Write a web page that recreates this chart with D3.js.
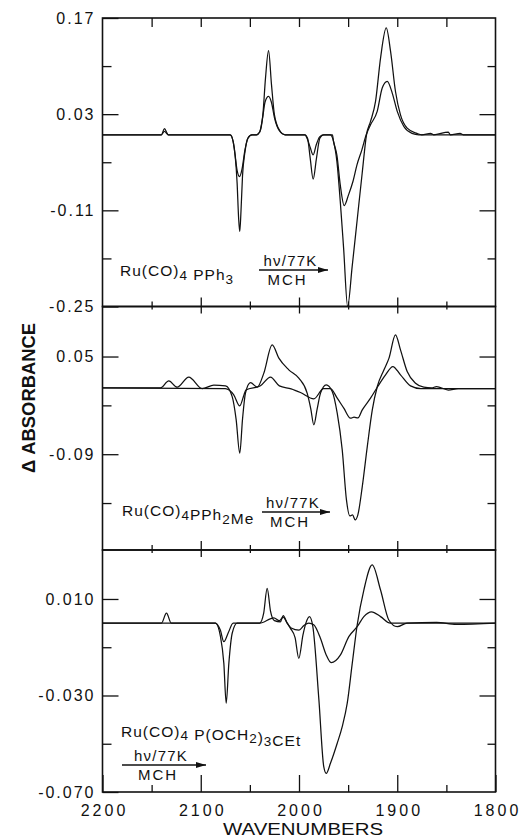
<!DOCTYPE html>
<html><head><meta charset="utf-8">
<script src="https://cdn.jsdelivr.net/npm/d3@7"></script>
<style>
html,body{margin:0;padding:0;background:#fff;}
svg{display:block;}
text{font-family:"Liberation Sans","DejaVu Sans",sans-serif;fill:#111;}
</style></head>
<body>
<svg id="chart" width="521" height="837"></svg>
<script>
// ---- data ----
const xMajor = [2200, 2100, 2000, 1900, 1800];
const xMinor = [2150, 2050, 1950, 1850];

const topMajor = [0.17, 0.03, -0.11, -0.25];
const topMinor = [0.10, -0.04, -0.18];
const midMajor = [0.05, -0.09];
const midMinor = [-0.02, -0.16];
const botMajor = [0.010, -0.030, -0.070];
const botMinor = [-0.010, -0.050];

// [wavenumber, delta absorbance]
const topLarge = [[2200,0],[2140,0],[2137,0.009],[2133,0],[2070,0],[2067,-0.01],[2065,-0.03],[2063,-0.07],[2061.5,-0.12],[2060.3,-0.141],[2059,-0.11],[2057.5,-0.06],[2055,-0.025],[2052,-0.005],[2048,0],[2043.5,0],[2040,0.004],[2036.8,0.029],[2034.1,0.0825],[2031,0.1225],[2028,0.073],[2025,0.029],[2020,0.007],[2014,0],[1994,0],[1991.3,-0.005],[1988.6,-0.034],[1985.6,-0.0647],[1982.2,-0.034],[1978.8,-0.005],[1975,0],[1968,0],[1964.8,-0.01],[1961.4,-0.039],[1958,-0.097],[1954.6,-0.165],[1950.5,-0.25],[1945.9,-0.192],[1940.8,-0.124],[1935.7,-0.056],[1931.3,0],[1927.2,0.0194],[1922.1,0.0486],[1917,0.1117],[1911.2,0.1555],[1906.8,0.1215],[1901.8,0.063],[1896.7,0.029],[1889.9,0.0096],[1880,0.002],[1875,0],[1866,0.002],[1863,0],[1848,0.004],[1846,0],[1836,0.002],[1833,0],[1800,0]];
const topSmall = [[2200,0],[2140,0],[2137,0.005],[2133,0],[2070,0],[2067,-0.01],[2065,-0.03],[2063,-0.052],[2060.5,-0.061],[2058,-0.05],[2055,-0.022],[2052,-0.005],[2048,0],[2043,0],[2040,0.004],[2037,0.025],[2034.5,0.048],[2031,0.0559],[2028,0.047],[2025,0.025],[2020,0.006],[2014,0],[1994,0],[1991,-0.008],[1988.5,-0.019],[1985.6,-0.0292],[1982.5,-0.015],[1979,-0.003],[1975,0],[1966,0],[1964.8,-0.01],[1961.4,-0.03],[1958,-0.073],[1954,-0.103],[1949.6,-0.0875],[1945.1,-0.068],[1941,-0.0438],[1936,-0.0219],[1931.6,0],[1927.2,0.0146],[1920.4,0.034],[1915.3,0.068],[1910.2,0.0777],[1905.1,0.0607],[1900,0.034],[1893.3,0.012],[1885,0.002],[1878,0],[1800,0]];

const midLarge = [[2200,0.005],[2141,0.005],[2132.5,0.015],[2124,0.006],[2112.2,0.0205],[2098.5,0.004],[2086.7,0.009],[2074.8,0.008],[2068,-0.0074],[2064,-0.04],[2060.3,-0.0886],[2057.5,-0.04],[2054.5,-0.0025],[2049.4,0.0127],[2042.5,0.0061],[2035.8,0.0262],[2027.3,0.0668],[2020.5,0.0477],[2010.4,0.0309],[2000.2,0.019],[1991.7,-0.0025],[1988,-0.025],[1984.9,-0.048],[1981.5,-0.025],[1978.1,-0.0025],[1972.3,0.0094],[1966.2,0.0],[1961.1,-0.0312],[1956,-0.0838],[1951.7,-0.1555],[1948.3,-0.1785],[1945.5,-0.177],[1942.8,-0.1842],[1940.1,-0.177],[1935.6,-0.1365],[1930.5,-0.0791],[1925.4,-0.0265],[1920.3,0.007],[1913.5,0.0309],[1908.4,0.0477],[1901.8,0.0811],[1896.7,0.0596],[1889.9,0.0285],[1881.4,0.0118],[1873,0.0061],[1865,0.005],[1860,0.007],[1848,0.002],[1838,0.004],[1800,0.004]];
const midSmall = [[2200,0.005],[2075,0.004],[2066.4,-0.0049],[2060.3,-0.0207],[2056,-0.005],[2054,0.002],[2039.2,0.008],[2029,0.0205],[2020,0.008],[2008,0.0037],[1998.5,-0.0016],[1984.9,-0.0107],[1975,0.004],[1968,0.004],[1961.1,-0.0097],[1954.4,-0.024],[1947.6,-0.0384],[1944,-0.037],[1940,-0.038],[1935.6,-0.0265],[1927.2,-0.0097],[1920.3,0.006],[1911.9,0.0237],[1904.5,0.0357],[1896.7,0.0237],[1886.5,0.008],[1876,0.004],[1800,0.004]];

const botLarge = [[2200,0],[2140,0],[2134.9,0.0041],[2130,0],[2085,0],[2079.9,-0.0056],[2076.5,-0.0167],[2074.1,-0.0332],[2071.4,-0.0167],[2068,-0.0042],[2063,0],[2040,0],[2036,0.004],[2032.4,0.0144],[2029,0.005],[2025,0.001],[2019,0.0005],[2016.1,0.0031],[2012,0],[2008.7,-0.0022],[2004,-0.006],[2000.2,-0.0146],[1996,-0.005],[1993,0],[1989.3,0.0027],[1985.9,-0.0015],[1979.8,-0.0315],[1974.8,-0.0595],[1972.3,-0.0623],[1967.9,-0.058],[1961.1,-0.0498],[1956,-0.0429],[1950.9,-0.0332],[1945.8,-0.0167],[1940.8,-0.0008],[1934,0.0137],[1925.5,0.0241],[1917,0.0137],[1908.6,0.0013],[1900,-0.0015],[1890,0],[1860,0.0003],[1840,-0.0005],[1800,0]];
const botSmall = [[2200,0],[2085,0],[2080,-0.003],[2076.5,-0.0077],[2072,-0.004],[2067,0],[2040,0],[2025.6,0.0022],[2020,0.001],[2016.1,0.0025],[2012,0],[2008,-0.002],[2000,-0.0029],[1995,-0.001],[1990,0],[1985,-0.0007],[1978.2,-0.0063],[1972.3,-0.0132],[1967.3,-0.0164],[1957.8,-0.0132],[1949.3,-0.0056],[1940.8,-0.0015],[1934,0.0027],[1926.2,0.0047],[1917,0.0027],[1907,0],[1800,0]];

// ---- layout ----
const svg = d3.select("#chart");
const X0 = 102.5, X1 = 495.5;
const x = d3.scaleLinear().domain([2200, 1800]).range([X0, X1]);
const allX = xMajor.concat(xMinor).sort((a,b)=>b-a);

const fmt2 = v => (v < 0 ? "-" : "") + Math.abs(v).toFixed(2);
const fmt3 = v => (v < 0 ? "-" : "") + Math.abs(v).toFixed(3);

const panels = [
  {top:18, bottom:306.5, domain:[-0.25, 0.17], major:topMajor, minor:topMinor, fmt:fmt2, series:[topLarge, topSmall]},
  {top:306.5, bottom:550, domain:[-0.2273, 0.1217], major:midMajor, minor:midMinor, fmt:fmt2, series:[midLarge, midSmall]},
  {top:550, bottom:792, domain:[-0.070, 0.0303], major:botMajor, minor:botMinor, fmt:fmt3, series:[botLarge, botSmall]}
];

function clean(g){ g.select(".domain").remove(); g.selectAll("line").attr("stroke","#111").attr("stroke-width",1.3); }

panels.forEach((p, i) => {
  const y = d3.scaleLinear().domain(p.domain).range([p.bottom, p.top]);
  const clipId = "clip" + i;
  svg.append("clipPath").attr("id", clipId).append("rect")
    .attr("x", X0).attr("y", p.top - 1).attr("width", X1 - X0).attr("height", p.bottom - p.top + 2);

  const line = d3.line().x(d => x(d[0])).y(d => y(d[1])).curve(d3.curveMonotoneX);
  p.series.forEach(s => {
    svg.append("path").datum(s).attr("d", line)
      .attr("fill","none").attr("stroke","#111").attr("stroke-width",1.25)
      .attr("stroke-linejoin","round").attr("clip-path", `url(#${clipId})`);
  });

  svg.append("g").attr("transform", `translate(${X0},0)`)
    .call(d3.axisLeft(y).tickValues(p.major).tickSizeInner(-16).tickSizeOuter(0).tickPadding(7).tickFormat(p.fmt))
    .call(clean)
    .call(g => g.selectAll("text").attr("font-size",16).attr("letter-spacing","2px").attr("fill","#111").attr("font-family","Liberation Sans, sans-serif"));
  svg.append("g").attr("transform", `translate(${X0},0)`)
    .call(d3.axisLeft(y).tickValues(p.minor).tickSize(-9).tickFormat(""))
    .call(clean);
  svg.append("g").attr("transform", `translate(${X1},0)`)
    .call(d3.axisRight(y).tickValues(p.major.filter(v => y(v) > p.top + 2 && y(v) < p.bottom - 2)).tickSize(-16).tickFormat(""))
    .call(clean);
  svg.append("g").attr("transform", `translate(${X1},0)`)
    .call(d3.axisRight(y).tickValues(p.minor).tickSize(-8).tickFormat(""))
    .call(clean);

  svg.append("rect").attr("x", X0).attr("y", p.top).attr("width", X1 - X0).attr("height", p.bottom - p.top)
    .attr("fill","none").attr("stroke","#111").attr("stroke-width",1.6);
});

svg.append("g").attr("transform", `translate(0,${panels[0].top})`)
  .call(d3.axisTop(x).tickValues(allX.filter(v => v > 1800 && v < 2200)).tickSize(-9).tickFormat("")).call(clean);

[panels[0].bottom, panels[1].bottom].forEach(yy => {
  const inner = xMajor.filter(v => v > 1800 && v < 2200);
  svg.append("g").attr("transform", `translate(0,${yy})`)
    .call(d3.axisTop(x).tickValues(inner).tickSize(9).tickFormat("")).call(clean);
  svg.append("g").attr("transform", `translate(0,${yy})`)
    .call(d3.axisBottom(x).tickValues(inner).tickSize(7).tickFormat("")).call(clean);
  svg.append("g").attr("transform", `translate(0,${yy})`)
    .call(d3.axisTop(x).tickValues(xMinor).tickSize(5).tickFormat("")).call(clean);
  svg.append("g").attr("transform", `translate(0,${yy})`)
    .call(d3.axisBottom(x).tickValues(xMinor).tickSize(3).tickFormat("")).call(clean);
});

const yb = panels[2].bottom;
svg.append("g").attr("transform", `translate(0,${yb})`)
  .call(d3.axisBottom(x).tickValues(xMajor).tickSizeInner(-17).tickSizeOuter(0).tickPadding(13).tickFormat(d3.format("d")))
  .call(clean)
  .call(g => g.selectAll("text").attr("font-size",16).attr("letter-spacing","3px").attr("dx","1.5px").attr("fill","#111").attr("font-family","Liberation Sans, sans-serif"));
svg.append("g").attr("transform", `translate(0,${yb})`)
  .call(d3.axisBottom(x).tickValues(xMinor).tickSize(-7).tickFormat("")).call(clean);

svg.append("text").attr("x", 303).attr("y", 835).attr("text-anchor","middle")
  .attr("font-size",16).attr("textLength",160).attr("lengthAdjust","spacingAndGlyphs").text("WAVENUMBERS");
svg.append("text").attr("transform","translate(35,398) rotate(-90)").attr("text-anchor","middle")
  .attr("font-size",19).attr("font-weight","bold").attr("textLength",150).attr("lengthAdjust","spacingAndGlyphs").text("Δ ABSORBANCE");

svg.append("defs").append("marker").attr("id","arr").attr("viewBox","0 0 10 6").attr("refX",10).attr("refY",3)
  .attr("markerWidth",11).attr("markerHeight",6).attr("markerUnits","userSpaceOnUse").attr("orient","auto")
  .append("path").attr("d","M0,0 L10,3 L0,6 Z").attr("fill","#111");

function formula(xp, yp, parts, sd){
  const t = svg.append("text").attr("x", xp).attr("y", yp).attr("font-size",15.5).attr("letter-spacing","1px");
  parts.forEach(([s, sub]) => {
    if (sub) t.append("tspan").attr("dy", sd).attr("font-size", 13.5).text(s);
    else t.append("tspan").attr("dy", 0).text(s);
    if (sub) t.append("tspan").attr("dy", -sd).text("");
  });
  return t;
}
function arrow(xa, xb, ya){
  svg.append("line").attr("x1", xa).attr("x2", xb).attr("y1", ya).attr("y2", ya)
    .attr("stroke","#111").attr("stroke-width",1.3).attr("marker-end","url(#arr)");
  svg.append("text").attr("x", (xa + xb)/2 - 3).attr("y", ya - 4).attr("text-anchor","middle")
    .attr("font-size",15).attr("letter-spacing","1.2px").text("hν/77K");
  svg.append("text").attr("x", (xa + xb)/2 - 6).attr("y", ya + 15).attr("text-anchor","middle")
    .attr("font-size",15).attr("letter-spacing","2px").text("MCH");
}

formula(120, 276, [["Ru(CO)"],["4",1],[" PPh"],["3",1]], 4);
arrow(259, 328, 270);
formula(122, 516, [["Ru(CO)"],["4",1],["PPh"],["2",1],["Me"]], 4);
arrow(262, 330, 512);
formula(121, 737, [["Ru(CO)"],["4",1],[" P(OCH"],["2",1],[")"],["3",1],["CEt"]], 3);
arrow(122, 206, 765);
</script>
</body></html>
